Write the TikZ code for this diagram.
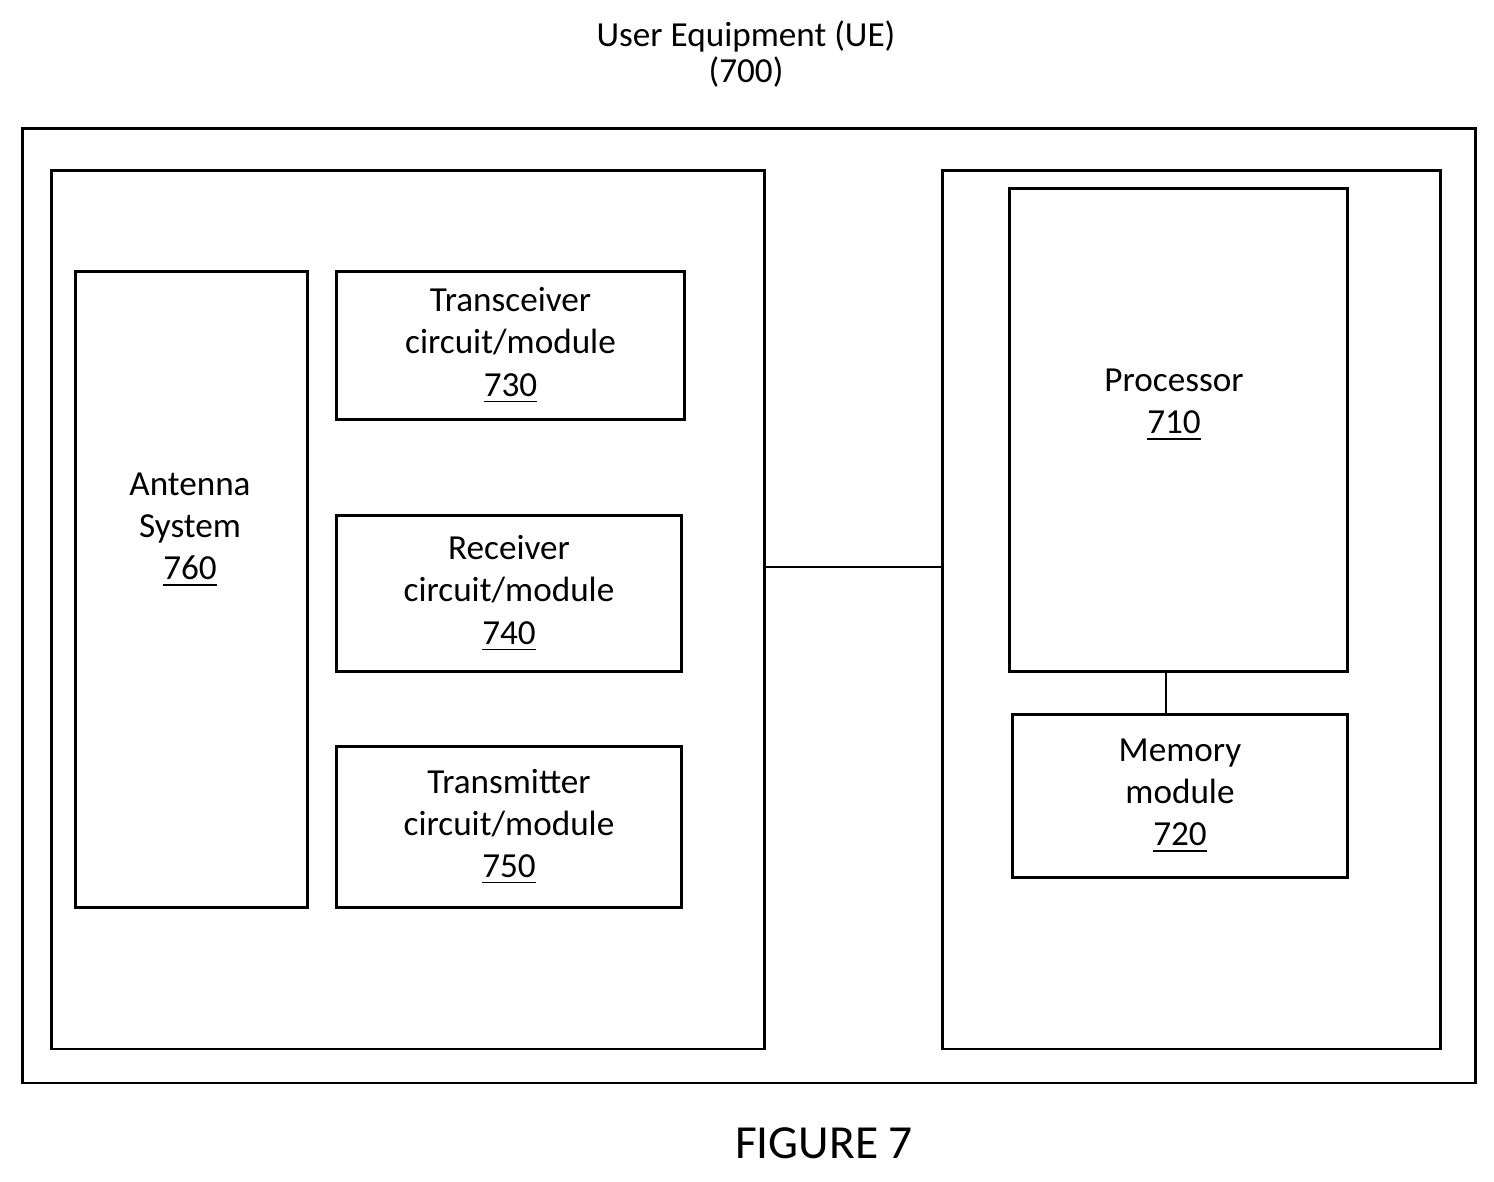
\documentclass[tikz,border=0pt]{standalone}
\usepackage{fontspec}
\setmainfont{Carlito}
\usetikzlibrary{positioning}
\tikzset{
  blk/.style = {draw, thick, anchor = north west, align = center, inner sep = 0pt, font = \fontsize{10}{12}\selectfont},
  lbl/.style = {align = center, font = \fontsize{10}{12}\selectfont},
}
\newcommand{\ul}[1]{\underline{#1}}
\begin{document}
\begin{tikzpicture}[x = .01cm, y = -.01cm]
\useasboundingbox (0,0) rectangle (1494,1181);
\node[font = \fontsize{10}{10}\selectfont, align = center] (title) at (746,54) {User Equipment (UE)\\(700)};
\node[blk, minimum width = 14.52cm, minimum height = 9.54cm] (ue) at (21,127) {};
\node[blk, minimum width = 7.13cm, minimum height = 8.78cm] (left) at (50,169) {};
\node[blk, minimum width = 4.98cm, minimum height = 8.78cm] (right) at (941,169) {};
\node[blk, minimum width = 2.32cm, minimum height = 6.36cm] (ant) at (74,270) {};
\node[lbl] (antlbl) at (190,530) {Antenna\\System\\\ul{760}};
\node[blk, minimum width = 3.48cm, minimum height = 1.48cm] (trx) at (335,270) {Transceiver\\circuit/module\\\ul{730}};
\node[blk, minimum width = 3.45cm, minimum height = 1.56cm] (rx) at (335,514) {Receiver\\circuit/module\\\ul{740}};
\node[blk, minimum width = 3.45cm, minimum height = 1.61cm] (tx) at (335,745) {Transmitter\\circuit/module\\\ul{750}};
\node[blk, minimum width = 3.38cm, minimum height = 4.83cm] (proc) at (1008,187) {};
\node[lbl] (proclbl) at (1174,405) {Processor\\\ul{710}};
\node[blk, minimum width = 3.35cm, minimum height = 1.63cm] (mem) at (1011,713) {Memory\\module\\\ul{720}};
\coordinate (link) at (763,567);
\coordinate (pm) at (1166,670);
\draw[thick] (link) -- (link -| right.west);
\draw[thick] (pm) -- (pm |- mem.north);
\node[font = \fontsize{13.5}{16}\selectfont] (fig) at (824,1143) {FIGURE 7};
\end{tikzpicture}
\end{document}
